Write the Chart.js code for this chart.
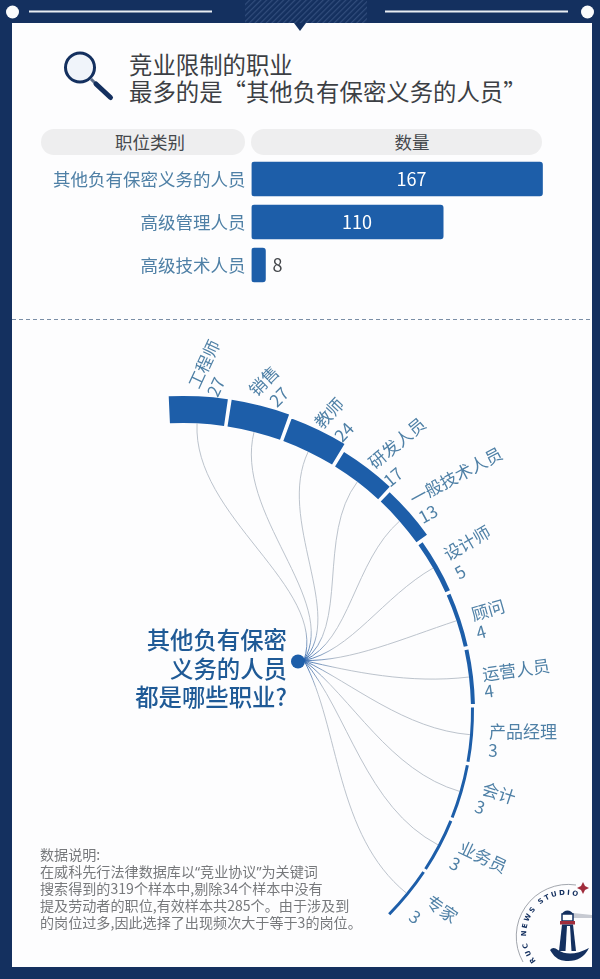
<!DOCTYPE html>
<html lang="zh-CN">
<head>
<meta charset="utf-8">
<title>竞业限制的职业</title>
<script src="https://cdn.jsdelivr.net/npm/chart.js@4/dist/chart.umd.min.js"></script>
<style>
  html, body { margin: 0; padding: 0; background: #14305f; }
  body { font-family: "Noto Sans CJK SC", "Noto Sans", sans-serif; }
  #page { position: relative; width: 600px; height: 979px; overflow: hidden; background: #14305f; }
  #panel { position: absolute; left: 12px; top: 23px; width: 580px; height: 944px; background: #fdfdfe; }
  #page canvas, #page svg { position: absolute; }
  .text { position: absolute; white-space: nowrap; }
  #title { left: 129px; top: 51px; font-size: 23.4px; line-height: 27px; color: #3c3f44; }
  .pill { position: absolute; top: 129px; height: 26px; border-radius: 13px; background: #eeeeef; }
  .pill-text { position: absolute; top: 129px; line-height: 26px; color: #45484c; font-size: 17.5px; transform: translateX(-50%); white-space: nowrap; }
  #question { right: 313px; top: 625px; font-size: 23.4px; line-height: 28.5px; font-weight: 500;
              color: #1f5a96; text-align: right; }
  #note { left: 40px; top: 846px; font-size: 14.1px; line-height: 17px; color: #77797c; }
  #note .q { font-family: "Noto Sans", sans-serif; }
</style>
</head>
<body>
<div id="page">
  <div id="panel"></div>

  <svg width="600" height="34" style="left:0;top:0">
    <defs>
      <pattern id="hatch" width="4" height="4" patternUnits="userSpaceOnUse" patternTransform="rotate(45)">
        <rect width="4" height="4" fill="#14305f"/>
        <rect width="1.2" height="4" fill="#4a6594"/>
      </pattern>
    </defs>
    <rect x="245" y="0" width="122" height="23" fill="url(#hatch)" opacity="0.55"/>
    <rect x="29" y="10.5" width="183" height="2" fill="#e9edf3"/>
    <rect x="385" y="10.5" width="183" height="2" fill="#e9edf3"/>
    <circle cx="12.5" cy="12" r="6.5" fill="#fbfcfd"/>
    <circle cx="587.5" cy="12" r="6.5" fill="#fbfcfd"/>
    <path d="M294 23 L306 23 L300 31 Z" fill="#14305f"/>
  </svg>

  <svg width="60" height="60" viewBox="60 48 60 60" style="left:60px;top:48px">
    <circle cx="80" cy="67.5" r="14.5" fill="#f0f4fa" stroke="#14305f" stroke-width="3"/>
    <path d="M91 79 L96 84" stroke="#5b6d8a" stroke-width="3"/>
    <path d="M96 84 L110.5 97.5" stroke="#14305f" stroke-width="5" stroke-linecap="round"/>
  </svg>

  <div class="text" id="title">竞业限制的职业<br>最多的是“其他负有保密义务的人员”</div>

  <div class="pill" style="left:41px;width:204px"></div>
  <div class="pill" style="left:251px;width:291px"></div>
  <div class="pill-text" style="left:150px">职位类别</div>
  <div class="pill-text" style="left:412px">数量</div>

  <canvas id="position-bar" width="600" height="162" style="left:0;top:140.5px"></canvas>

  <svg width="600" height="4" style="left:0;top:318px">
    <line x1="12" y1="1.5" x2="592" y2="1.5" stroke="#7a8ea6" stroke-width="1.2" stroke-dasharray="4 3"/>
  </svg>

  <canvas id="job-ring" width="800" height="800" style="left:-217px;top:311px"></canvas>

  <div class="text" id="question">其他负有保密<br>义务的人员<br>都是哪些职业?</div>

  <div class="text" id="note">数据说明:<br>在威科先行法律数据库以<span class="q">“</span>竞业协议<span class="q">”</span>为关键词<br>搜索得到的319个样本中,剔除34个样本中没有<br>提及劳动者的职位,有效样本共285个。由于涉及到<br>的岗位过多,因此选择了出现频次大于等于3的岗位。</div>

  <svg width="90" height="104" viewBox="510 875 90 104" style="left:510px;top:875px">
    <defs>
      <path id="logo-arc" d="M536 961 A 40 40 0 0 1 584 899"/>
      <clipPath id="logo-clip"><rect x="510" y="875" width="82" height="92"/></clipPath>
    </defs>
    <g clip-path="url(#logo-clip)">
      <path d="M523 962 A 52 52 0 0 1 576 885" fill="none" stroke="#8a8f98" stroke-width="0.8"/>
      <text font-family="DejaVu Sans" font-weight="bold" font-size="7" letter-spacing="2" fill="#14305f">
        <textPath href="#logo-arc">RUC NEWS STUDIO</textPath>
      </text>
      <path d="M573 913 L592 915 L592 918 L573 918 Z" fill="#c7cad2"/>
      <path d="M562 914 A 6 6 0 0 1 573 914 Z" fill="#14305f"/>
      <rect x="562" y="914" width="11" height="7" fill="#fff" stroke="#14305f" stroke-width="1.5"/>
      <rect x="560" y="921" width="15" height="3.5" fill="#a02c3c"/>
      <path d="M562 924.5 L573 924.5 L576 951 L559 951 Z" fill="#14305f"/>
      <path d="M567 926 L570 926 L571.5 951 L565.5 951 Z" fill="#fdfdfe"/>
      <path d="M550 950 Q553 946 558 950 Q570 958 589 948 Q582 962 566 961 Q556 960 552 953 Z" fill="#14305f"/>
    </g>
    <path d="M583 882 L585 886 L589 888 L585 890 L583 894 L581 890 L577 888 L581 886 Z" fill="#a02c3c"/>
  </svg>
</div>

<script>
  const POSITION_CATEGORIES = ["其他负有保密义务的人员", "高级管理人员", "高级技术人员"];
  const POSITION_COUNTS = [167, 110, 8];

  const JOB_NAMES = ["工程师", "销售", "教师", "研发人员", "一般技术人员", "设计师", "顾问", "运营人员", "产品经理", "会计", "业务员", "专家"];
  const JOB_COUNTS = [27, 27, 24, 17, 13, 5, 4, 4, 3, 3, 3, 3];

  // where the rotated labels sit on the page: [nameX, nameY, valueX, valueY, rotation]
  const JOB_LABEL_SPOTS = [
    [204, 364, 216, 387, -65],
    [264, 381, 279, 397, -45],
    [329, 413, 344, 432, -47],
    [397, 443, 393, 477, -40],
    [456, 476, 428, 514, -28],
    [467, 543, 460, 572, -30],
    [488, 610, 481, 632, -16],
    [516, 670, 489, 691, -8],
    [523, 732, 493, 751, 0],
    [499, 793, 480, 807, 18],
    [483, 857, 455, 864, 25],
    [442, 909, 415, 917, 35],
  ];

  const BLUE = "#1d5ea9";
  const LABEL_BLUE = "#4f80a6";
  const FONT = '"Noto Sans CJK SC", "Noto Sans", sans-serif';

  const RING_LEFT = -217;
  const RING_TOP = 311;
  const SEGMENT_STEP = 11.49;
  const SEGMENT_GAP = 0.7;
  const HUB = { x: 298, y: 661.5 };

  const barValueLabels = {
    id: "barValueLabels",
    afterDatasetsDraw(chart) {
      const { ctx } = chart;
      ctx.save();
      ctx.font = `18px ${FONT}`;
      ctx.textAlign = "center";
      ctx.textBaseline = "middle";
      chart.getDatasetMeta(0).data.forEach((bar, i) => {
        const inside = bar.x - bar.base > 40;
        ctx.fillStyle = inside ? "#ffffff" : "#45484c";
        const x = inside ? bar.base + (bar.x - bar.base) * 0.55 : bar.x + 12;
        ctx.fillText(String(POSITION_COUNTS[i]), x, bar.y);
      });
      ctx.restore();
    },
  };

  new Chart(document.getElementById("position-bar"), {
    type: "bar",
    data: {
      labels: POSITION_CATEGORIES,
      datasets: [
        {
          data: POSITION_COUNTS,
          backgroundColor: BLUE,
          barThickness: 34,
          borderRadius: 3,
          borderSkipped: false,
        },
      ],
    },
    options: {
      indexAxis: "y",
      responsive: false,
      animation: false,
      layout: { autoPadding: false },
      plugins: { legend: { display: false }, tooltip: { enabled: false } },
      scales: {
        x: { display: false, min: 0, max: 200 },
        y: {
          afterFit: (scale) => { scale.width = 251.5; },
          border: { display: false },
          grid: { display: false, drawTicks: false },
          ticks: { color: LABEL_BLUE, font: { family: FONT, size: 17.5 }, padding: 6 },
        },
      },
    },
    plugins: [barValueLabels],
  });

  // polar area whose wedges start at the value 0 radius instead of the centre
  class RingAreaController extends Chart.PolarAreaController {
    updateElement(element, index, properties, mode) {
      if (properties) {
        const rScale = this._cachedMeta.rScale;
        properties.innerRadius = rScale.getDistanceFromCenterForValue(0);
        if (properties.endAngle !== undefined) {
          properties.endAngle -= (SEGMENT_GAP * Math.PI) / 180;
        }
      }
      super.updateElement(element, index, properties, mode);
    }
  }
  RingAreaController.id = "ringArea";
  RingAreaController.defaults = Chart.PolarAreaController.defaults;
  RingAreaController.overrides = Chart.PolarAreaController.overrides;
  Chart.register(RingAreaController);

  const ringLeaders = {
    id: "ringLeaders",
    beforeDatasetsDraw(chart) {
      const { ctx } = chart;
      const arcs = chart.getDatasetMeta(0).data;
      const hubX = HUB.x - RING_LEFT;
      const hubY = HUB.y - RING_TOP;
      const fromX = hubX + 6;
      const fromY = hubY - 1;
      const stroke = ctx.createRadialGradient(fromX, fromY, 2, fromX, fromY, 34);
      stroke.addColorStop(0, "#2f66ad");
      stroke.addColorStop(1, "#b4bcc6");

      ctx.save();
      ctx.strokeStyle = stroke;
      ctx.lineWidth = 0.9;
      arcs.forEach((arc, i) => {
        const mid = (arc.startAngle + arc.endAngle) / 2;
        const toX = arc.x + arc.innerRadius * Math.cos(mid);
        const toY = arc.y + arc.innerRadius * Math.sin(mid);
        const length = Math.hypot(toX - fromX, toY - fromY);
        const fan = ((-72 + (134 * i) / (arcs.length - 1)) * Math.PI) / 180;
        ctx.beginPath();
        ctx.moveTo(fromX, fromY);
        ctx.bezierCurveTo(
          fromX + length * 0.3 * Math.cos(fan),
          fromY + length * 0.3 * Math.sin(fan),
          toX - length * 0.36 * Math.cos(mid),
          toY - length * 0.36 * Math.sin(mid),
          toX,
          toY
        );
        ctx.stroke();
      });
      ctx.fillStyle = BLUE;
      ctx.beginPath();
      ctx.arc(hubX, hubY, 7, 0, Math.PI * 2);
      ctx.fill();
      ctx.restore();
    },
    afterDatasetsDraw(chart) {
      const { ctx } = chart;
      const drawRotated = (text, x, y, deg) => {
        ctx.save();
        ctx.translate(x - RING_LEFT, y - RING_TOP);
        ctx.rotate((deg * Math.PI) / 180);
        ctx.fillText(text, 0, 0);
        ctx.restore();
      };
      ctx.save();
      ctx.font = `17px ${FONT}`;
      ctx.fillStyle = LABEL_BLUE;
      ctx.textAlign = "center";
      ctx.textBaseline = "middle";
      JOB_NAMES.forEach((name, i) => {
        const [nameX, nameY, valueX, valueY, deg] = JOB_LABEL_SPOTS[i];
        drawRotated(name, nameX, nameY, deg);
        drawRotated(String(JOB_COUNTS[i]), valueX, valueY, deg);
      });
      ctx.restore();
    },
  };

  new Chart(document.getElementById("job-ring"), {
    type: "ringArea",
    data: {
      labels: JOB_NAMES,
      datasets: [
        {
          data: JOB_COUNTS,
          backgroundColor: BLUE,
          borderWidth: 0,
          angle: SEGMENT_STEP,
        },
      ],
    },
    options: {
      responsive: false,
      animation: false,
      plugins: { legend: { display: false }, tooltip: { enabled: false } },
      scales: {
        r: {
          min: -288,
          max: 112,
          startAngle: -2.6,
          grid: { display: false },
          angleLines: { display: false },
          pointLabels: { display: false },
          ticks: { display: false },
        },
      },
    },
    plugins: [ringLeaders],
  });
</script>
</body>
</html>
